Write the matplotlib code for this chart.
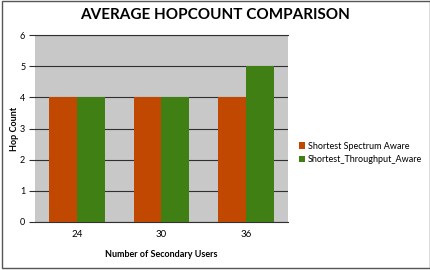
import matplotlib
matplotlib.use("Agg")
import matplotlib.pyplot as plt
import numpy as np
from matplotlib.patches import Rectangle

users = ["24", "30", "36"]
spectrum_aware = [4, 4, 4]
throughput_aware = [4, 4, 5]
series_names = ["Shortest Spectrum Aware", "Shortest_Throughput_Aware"]

plt.rcParams["font.family"] = ["Lato", "DejaVu Sans"]

fig = plt.figure(figsize=(4.31, 2.70), dpi=100)
ax = fig.add_axes([0.081, 0.178, 0.587, 0.692])
ax.set_facecolor("#c8c8c8")

x = np.arange(len(users))
w = 0.33
ax.bar(x - w / 2, spectrum_aware, w, color="#c04800", label=series_names[0], zorder=3)
ax.bar(x + w / 2, throughput_aware, w, color="#3f7f14", label=series_names[1], zorder=3)

ax.set_xlim(-0.5, 2.5)
ax.set_ylim(0, 6)
ax.set_yticks(range(7))
ax.set_xticks(x)
ax.set_xticklabels(users)
ax.yaxis.grid(True, color="#303030", linewidth=0.8, zorder=1)
ax.tick_params(axis="y", length=4, width=0.8, color="#303030", labelsize=6.5, pad=3)
ax.tick_params(axis="x", length=0, labelsize=7, pad=6)
for s in ["left", "right"]:
    ax.spines[s].set_visible(False)
ax.spines["top"].set_color("#303030")
ax.spines["bottom"].set_color("#303030")

ax.set_ylabel("Hop Count", fontsize=6.5, fontweight="bold", labelpad=1)
ax.set_xlabel("Number of Secondary Users", fontsize=6.5, fontweight="bold", labelpad=8)

fig.text(0.5, 0.945, "AVERAGE HOPCOUNT COMPARISON", ha="center", va="center",
         fontsize=11, fontweight="bold")

leg = ax.legend(loc="center left", bbox_to_anchor=(1.03, 0.37), frameon=False,
                fontsize=6.5, handlelength=0.7, handleheight=0.7, handletextpad=0.3,
                labelspacing=0.5, borderaxespad=0)

fig.patches.append(Rectangle((0.004, 0.006), 0.993, 0.99, transform=fig.transFigure,
                             fill=False, edgecolor="#555555", linewidth=1))

fig.savefig("out.png", dpi=100)
